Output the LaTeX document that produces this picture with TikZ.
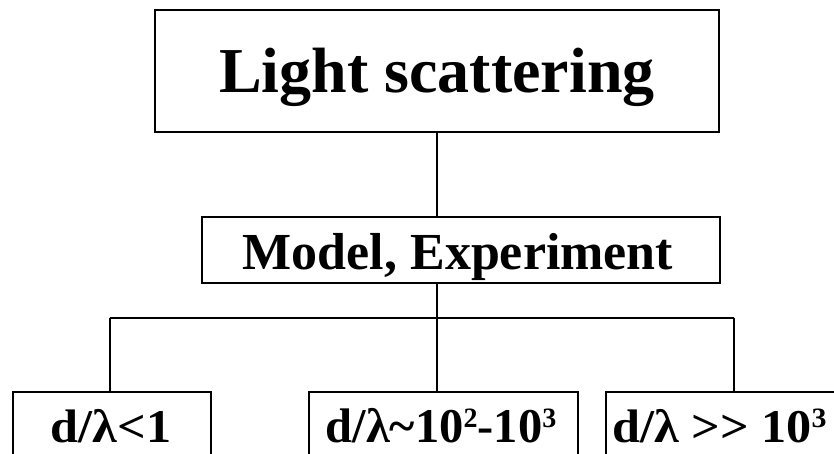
\documentclass[tikz,border=0pt]{standalone}
\usepackage{fontspec}
\setmainfont{Liberation Serif}
\newfontfamily\widefont[FakeStretch=1.07]{Liberation Serif}
\newcommand\mysupx[1]{\raisebox{15pt}{\fontsize{28}{28}\selectfont\bfseries #1}}
\begin{document}
\begin{tikzpicture}[x=1pt,y=1pt,
  boxthin/.style={draw=black,line width=1.3pt,rectangle,inner sep=0pt},
  boxthick/.style={draw=black,line width=2.6pt,rectangle,inner sep=0pt},
  conn/.style={draw=black,line width=1.3pt},
  bus/.style={draw=black,line width=2pt},
  bigtxt/.style={anchor=base,inner sep=0pt,font=\fontsize{64}{70}\selectfont\bfseries},
  midtxt/.style={anchor=base,inner sep=0pt,font=\fontsize{52}{58}\selectfont\bfseries},
  smalltxt/.style={anchor=base,inner sep=0pt,font=\widefont\fontsize{47}{52}\selectfont\bfseries},
  smalltxtb/.style={anchor=base,inner sep=0pt,font=\fontsize{48.5}{52}\selectfont\bfseries}]
\useasboundingbox (0,0) rectangle (834,454);
\clip (0,0) rectangle (834,454);
% boxes
\node[boxthin,minimum width=564pt,minimum height=122pt] (top) at (437,383) {};
\node[boxthick,minimum width=518pt,minimum height=66pt] (model) at (461,204) {};
\node[boxthin,minimum width=198pt,minimum height=100pt] (b1) at (112,12) {};
\node[boxthin,minimum width=269pt,minimum height=100pt] (b2) at (443.5,12) {};
\node[boxthin,minimum width=260pt,minimum height=100pt] (b3) at (736,12) {};
% texts
\node[bigtxt] (ttop) at (437,361) {Light scattering};
\node[midtxt] (tmodel) at (458,184) {Model, Experiment};
\node[smalltxt] (t1) at (111,11) {d/λ<1};
\node[smalltxtb] (t2) at (441,11) {d/λ\char"007E 10\mysupx{2}-10\mysupx{3}};
\node[smalltxt,anchor=base west] (t3) at (612,11) {d/λ >{}> 10\mysupx{3}};
% bus coordinates
\coordinate (busL) at (110,136);
\coordinate (busM) at (437,136);
\coordinate (busR) at (734,136);
% connectors
\draw[conn] (top.south) -- (top.south |- model.north);
\draw[conn] (model.south -| top.south) -- (busM |- b2.north);
\draw[bus] (busL) -- (busR);
\draw[conn] (busL) -- (busL |- b1.north);
\draw[conn] (busR) -- (busR |- b3.north);
\end{tikzpicture}
\end{document}
